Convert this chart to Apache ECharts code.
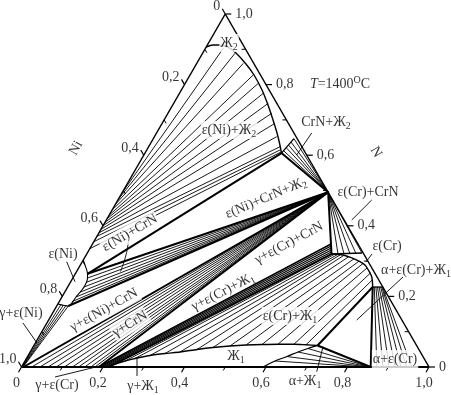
<!DOCTYPE html>
<html><head><meta charset="utf-8">
<script src="https://cdn.jsdelivr.net/npm/echarts/dist/echarts.min.js"></script>
<style>html,body{margin:0;padding:0;background:#fff}#c{width:451px;height:395px}</style>
</head><body><div id="c"></div>
<script>
// All compositions are [Cr, N] mole fractions (Ni = 1 - Cr - N).
const tickValues = [0, 0.2, 0.4, 0.6, 0.8, 1.0];
const tickLabels = ['0', '0,2', '0,4', '0,6', '0,8', '1,0'];
const minorTickValues = [0.1, 0.3, 0.5, 0.7, 0.9];

const pCrN = [0.505, 0.495];
const pL2tip = [0.335, 0.606];
const pL2top = [0.345, 0.647];
const pEpsNiA = [0.030, 0.264];
const pEpsNiB = [0.0284, 0.1728];
const pGammaNi = [0.005, 0];
const pGammaCr = [0.19, 0];
const pEpsCr = [0.6007, 0.3201];
const pEpsCrEdge = [0.6741, 0.3229];
const pEpsCrLow = [0.7485, 0.2266];
const pEpsCrLowEdge = [0.7726, 0.2266];
const pL1 = [0.696, 0.061];
const pAlpha = [0.857, 0];

const liquid2Curve = [[0,0.9065],[0.014,0.912],[0.031,0.912],[0.0535,0.9065],[0.0816,0.8895],[0.1217,0.8584],[0.157,0.8272],[0.1979,0.7847],[0.2338,0.7422],[0.2674,0.6997],[0.2956,0.6629],[0.3158,0.6346],[0.335,0.606]];
const tieNiL2Solid = [[0,0.49],[0,0.475],[0,0.46],[0,0.445],[0,0.43],[0,0.42],[0,0.41],[0,0.40],[0,0.39],[0,0.38],[0,0.37],[0,0.355],[0,0.335]];
const tieNiL2Liquid = [[0.0438,0.9028],[0.0796,0.8887],[0.1142,0.8603],[0.155,0.8272],[0.1793,0.8037],[0.2057,0.7754],[0.2321,0.7470],[0.2547,0.7187],[0.2769,0.6904],[0.3001,0.6524],[0.3224,0.6241],[0.327,0.6147],[0.3323,0.6091]];
const tieCrNL2Liquid = [[0.336,0.6133],[0.3382,0.6218],[0.3408,0.6289],[0.3426,0.6374]];
const epsNiBoundary = [[0,0.303],[0.0113,0.289],[0.030,0.264],[0.0359,0.2521],[0.0401,0.2266],[0.0346,0.1983],[0.0284,0.1728],[0,0.1785]];
const tieNiCrN = [[0.0359,0.2521],[0.039,0.24],[0.0401,0.2266],[0.038,0.212],[0.0346,0.1983],[0.031,0.185]];
const tieGNiGamma = [0.001, 0.002, 0.003, 0.004];
const tieGNiEps = [[0.0084,0.1771],[0.0153,0.1756],[0.0221,0.1742],[0.0284,0.1728]];
const tieGCrN = [0.025, 0.045, 0.065, 0.085, 0.105, 0.125, 0.14, 0.155, 0.17, 0.18];
const bandGamma = [0.1902, 0.1951, 0.2, 0.2049, 0.2098, 0.2147];
const bandEps = [[0.5853,0.3484],[0.5884,0.3428],[0.5914,0.3371],[0.5945,0.3314],[0.5976,0.3258],[0.6007,0.3201]];
const tieECrCrN = [[0.6167,0.3201],[0.6314,0.3201],[0.6461,0.3201],[0.6601,0.3215],[0.6741,0.3229]];
const epsCrCurve = [[0.6007,0.3201],[0.6303,0.3173],[0.6596,0.3079],[0.6815,0.2983],[0.6984,0.2890],[0.7137,0.2748],[0.7315,0.2558],[0.7485,0.2266]];
const liquid1Top = [[0.2123,0],[0.2252,0.0085],[0.2455,0.017],[0.2665,0.0241],[0.299,0.0326],[0.333,0.0382],[0.3678,0.0425],[0.4059,0.0496],[0.4423,0.0552],[0.4819,0.0595],[0.5198,0.0623],[0.5583,0.0637],[0.5971,0.0646],[0.6364,0.0646],[0.6667,0.0629],[0.696,0.061]];
const tieECrL1Eps = [[0.6007,0.3201],[0.6007,0.3201],[0.6022,0.3195],[0.6075,0.3187],[0.6153,0.3178],[0.6229,0.3173],[0.6332,0.3164],[0.6472,0.3130],[0.6627,0.3065],[0.6783,0.2997],[0.6914,0.2932],[0.7076,0.2805],[0.7233,0.2663],[0.7374,0.2465]];
const liquid1Bottom = [[0.5926,0],[0.6136,0.017],[0.6366,0.0297],[0.6573,0.0425],[0.6769,0.0524],[0.696,0.061]];
const tieAlphaL1 = [0.848, 0.851, 0.853, 0.855];
const tieAECrEps = [[0.7525,0.2266],[0.7564,0.2266],[0.7603,0.2266],[0.7643,0.2266],[0.7682,0.2266],[0.7709,0.2266],[0.7726,0.2266]];
const tieAECrAlpha = [0.872, 0.887, 0.902, 0.917, 0.931, 0.945, 0.958];

// annotation layout (label text, anchor composition, rotation, white backing)
const regionLabels = [
  ['Ж{s|2}', [0.0503,0.9178], 0, true],
  ['CrN+Ж{s|2}', [0.4002,0.6941], 0, false],
  ['ε(Ni)+Ж{s|2}', [0.1735,0.6714], 0, true],
  ['ε(Ni)+CrN+Ж{s|2}', [0.3606,0.4788], 23, true],
  ['ε(Cr)+CrN', [0.6024,0.4958], 0, false],
  ['ε(Ni)+CrN', [0.0765,0.3796], 30, true],
  ['ε(Ni)', [-0.0582,0.3201], 0, false],
  ['γ+ε(Ni)', [-0.0777,0.153], 0, false],
  ['γ+ε(Ni)+CrN', [0.1217,0.1615], 29, true],
  ['γ+CrN', [0.2054,0.1218], 31, true],
  ['γ+ε(Cr)+CrN', [0.4808,0.3513], 28, false],
  ['γ+ε(Cr)+Ж{s|1}', [0.3882,0.2125], 27, false],
  ['ε(Cr)+Ж{s|1}', [0.5867,0.1445], 0, true],
  ['Ж{s|1}', [0.5108,0.0312], 0, true],
  ['ε(Cr)', [0.7255,0.3428], 0, false],
  ['α+ε(Cr)+Ж{s|1}', [0.8307,0.2748], 0, false],
  ['α+ε(Cr)', [0.9053,0.0227], 0, true],
  ['γ+ε(Cr)', [0.1126,-0.051], 0, false],
  ['γ+Ж{s|1}', [0.3251,-0.0538], 0, false],
  ['α+Ж{s|1}', [0.7156,-0.0397], 0, false],
  ['{i|T}=1400{sup|O}C', [0.3808,0.8017], 0, false],
  ['Ni', [-0.1765,0.6204], 60, false],
  ['N', [0.5654,0.6091], -60, false]
];
const leaders = [
  [[0.3807,0.6629],[0.375,0.6006]],
  [[0.6229,0.4731],[0.6021,0.4164]],
  [[-0.0383,0.2983],[0.0105,0.2416]],
  [[-0.0586,0.1246],[0.004,0.068]],
  [[0.0964,-0.0283],[0.1912,0.0028]],
  [[0.2962,-0.0255],[0.2707,0.0255]],
  [[0.7311,-0.0133],[0.7112,0.0575]],
  [[0.7001,0.3201],[0.6967,0.2975]],
  [[0.8087,0.255],[0.756,0.1331]]
];
const leaderCurve = [[0.0846,0.355],[0.0978,0.3173],[0.1077,0.2705]];

// ---------- build ----------
const W = 407.5, H = 353;
const P = c => [c[0] + c[1] / 2, c[1]];
const segs = [];
const THIN = 0.9, MED = 1.3, THICK = 2;
function seg(a, b, w) { segs.push({ coords: [P(a), P(b)], lineStyle: { width: w } }); }
function segXY(a, b, w) { segs.push({ coords: [a, b], lineStyle: { width: w } }); }

seg([0,0],[1,0],2.2); seg([1,0],[0,1],1.5); seg([0,1],[0,0],1.5);

tieNiL2Solid.forEach((a,i) => seg(a, tieNiL2Liquid[i], THIN));
seg(pEpsNiA, pL2tip, THICK);
tieCrNL2Liquid.forEach(a => seg(a, pCrN, THIN));
seg(pL2top, pCrN, THIN); seg(pL2tip, pL2top, MED);
seg(pL2tip, pCrN, THICK);
seg(pEpsNiA, pCrN, THICK);
tieNiCrN.forEach(a => seg(a, pCrN, THIN));
seg(pEpsNiB, pCrN, THICK);
tieGNiGamma.forEach((g,i) => seg([g,0], tieGNiEps[i], THIN));
seg(pGammaNi, pCrN, THICK);
tieGCrN.forEach(g => seg([g,0], pCrN, THIN));
seg(pGammaCr, pCrN, THICK);
bandGamma.forEach((g,i) => seg([g,0], bandEps[i], (i===0||i===bandGamma.length-1)?1.6:1.2));
seg(pCrN, pEpsCr, THICK);
tieECrCrN.forEach(a => seg(a, pCrN, THIN));
seg(pEpsCr, pEpsCrEdge, MED);
tieECrL1Eps.forEach((a,i) => seg(a, liquid1Top[i+1], THIN));
seg(pEpsCrLow, pL1, THICK);
seg(pL1, pAlpha, THICK);
seg(pEpsCrLow, pAlpha, THICK);
seg(pEpsCrLow, pEpsCrLowEdge, MED);
tieAECrEps.forEach((a,i) => seg(a, [tieAECrAlpha[i],0], THIN));
tieAlphaL1.forEach((al,i) => seg(liquid1Bottom[i+1], [al,0], THIN));
leaders.forEach(l => seg(l[0], l[1], THIN));

const dXY = (dx, dy) => [dx / W, -dy / H];
const rightPt = v => [1 - v/2, v], leftPt = v => [(1-v)/2, 1-v], bottomPt = v => [v, 0];
const addTick = (p, d, w) => segXY(p, [p[0]+d[0], p[1]+d[1]], w);
const tR = dXY(6,0), tL = dXY(-3,-5.2), tB = dXY(-3,5.2);
const mR = dXY(-4,0), mL = dXY(2,3.46), mB = dXY(-2,3.46);
tickValues.forEach(v => { addTick(rightPt(v), tR, 1.2); addTick(leftPt(v), tL, 1.2); addTick(bottomPt(v), tB, 1.2); });
minorTickValues.forEach(v => { addTick(rightPt(v), mR, 1); addTick(leftPt(v), mL, 1); addTick(bottomPt(v), mB, 1); });

const FONT = 'Liberation Serif';
const rich = {
  s: { fontSize: 10, lineHeight: 18, verticalAlign: 'bottom', fontFamily: FONT, color: '#000', padding: [6,0,0,0] },
  sup: { fontSize: 10, lineHeight: 10, verticalAlign: 'top', fontFamily: FONT, color: '#000' },
  i: { fontStyle: 'italic', fontSize: 14, fontFamily: FONT, color: '#000' }
};
const labelItems = [];
regionLabels.forEach(([t, c, r, bg]) => {
  labelItems.push({ value: P(c), label: { show: true, formatter: t, position: 'inside', rotate: r,
    backgroundColor: bg ? '#fff' : 'transparent', padding: bg ? [0,1] : 0 } });
});
tickValues.forEach((v,i) => {
  const r = rightPt(v), l = leftPt(v), b = bottomPt(v);
  labelItems.push({ value: [r[0]+tR[0], r[1]], label: { show: true, formatter: tickLabels[i], position: 'right', distance: 4 } });
  labelItems.push({ value: [l[0]+tL[0], l[1]+tL[1]], label: { show: true, formatter: tickLabels[i], position: 'left', distance: 2, offset: [0,-2] } });
  labelItems.push({ value: [b[0]+tB[0], b[1]+tB[1]], label: { show: true, formatter: tickLabels[i], position: 'bottom', distance: 2, offset: [-2,0] } });
});

const curve = (pts, w, smooth) => ({ type: 'line', data: pts.map(P), showSymbol: false, symbol: 'none', smooth: smooth,
  lineStyle: { color: '#000', width: w }, silent: true, clip: false, z: 3, animation: false });

const chart = echarts.init(document.getElementById('c'), null, { renderer: 'canvas' });
chart.setOption({
  animation: false,
  backgroundColor: '#fff',
  grid: { left: 21.5, top: 14, width: W, height: H },
  xAxis: { type: 'value', min: 0, max: 1, show: false },
  yAxis: { type: 'value', min: 0, max: 1, show: false },
  series: [
    { type: 'lines', coordinateSystem: 'cartesian2d', polyline: true, data: segs, silent: true, clip: false, z: 2,
      lineStyle: { color: '#000', width: THIN, opacity: 1 }, animation: false },
    curve(liquid2Curve, 1.4, 0.3),
    curve(epsNiBoundary, 1.1, 0.3),
    curve(epsCrCurve, 1.4, 0.3),
    curve(liquid1Top, 1.4, 0.2),
    curve(liquid1Bottom, 1.3, 0.3),
    curve(leaderCurve, 0.9, 0.5),
    { type: 'scatter', data: labelItems, symbolSize: 0, silent: true, clip: false, z: 10, animation: false,
      label: { show: true, color: '#000', fontFamily: FONT, fontSize: 14, lineHeight: 18, rich: rich } }
  ]
});
</script></body></html>
